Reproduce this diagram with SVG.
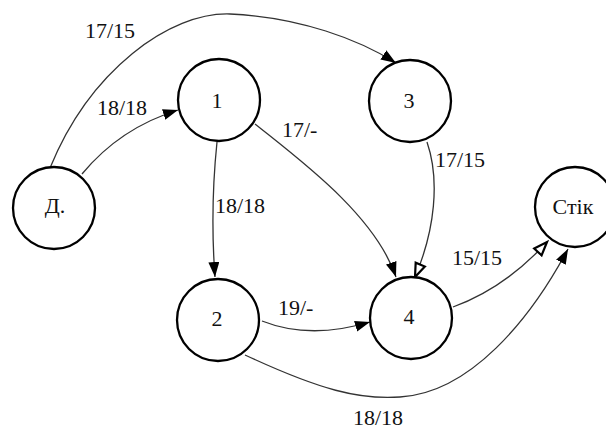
<svg xmlns="http://www.w3.org/2000/svg" width="606" height="429" viewBox="0 0 606 429">
<style>
.node{fill:#fff;stroke:#000;stroke-width:2.3}
.edge{fill:none;stroke:#333;stroke-width:1.3}
.c{text-anchor:middle}
</style>
<defs>
<marker id="a" markerUnits="userSpaceOnUse" markerWidth="16" markerHeight="12" refX="15" refY="5.5" orient="auto">
<path d="M0,0 L15,5.5 L0,11 z" fill="#000"/>
</marker>
<marker id="h" markerUnits="userSpaceOnUse" markerWidth="18" markerHeight="14" refX="15" refY="6.5" orient="auto">
<path d="M1.5,1.5 L15,6.5 L1.5,11.5 z" fill="#fff" stroke="#000" stroke-width="2.2"/>
</marker>
</defs>
<rect width="606" height="429" fill="#fff"/>
<g font-family="Liberation Serif, Times New Roman, serif" font-size="22" fill="#111">
<g id="connectors">
<path class="edge" d="M50,168 C 90,70 170,12 230,14 C 300,17 360,40 396,63" marker-end="url(#a)"/>
<path class="edge" d="M82,174 Q120,128 178,110" marker-end="url(#a)"/>
<path class="edge" d="M217,142 Q210,210 215,277" marker-end="url(#a)"/>
<path class="edge" d="M255,124 C 300,160 375,215 396,277" marker-end="url(#a)"/>
<path class="edge" d="M427,142 C 440,180 435,230 415,277" marker-end="url(#h)"/>
<path class="edge" d="M262,321 Q310,340 370,322" marker-end="url(#a)"/>
<path class="edge" d="M453,307 Q505,288 547,242" marker-end="url(#h)"/>
<path class="edge" d="M245,355 C 320,390 360,400 400,397 C 470,393 530,320 568,249" marker-end="url(#a)"/>
<text x="85" y="38">17/15</text>
<text x="97" y="115">18/18</text>
<text x="282" y="137">17/-</text>
<text x="215" y="213">18/18</text>
<text x="435" y="167">17/15</text>
<text x="278" y="315">19/-</text>
<text x="452" y="265">15/15</text>
<text x="353" y="425">18/18</text>
</g>
<g id="node-D"><circle class="node" cx="54" cy="208" r="41"/><text class="c" x="55" y="213">Д.</text></g>
<g id="node-1"><circle class="node" cx="219" cy="100" r="41"/><text class="c" x="217" y="108">1</text></g>
<g id="node-3"><circle class="node" cx="410" cy="101" r="41"/><text class="c" x="409" y="108">3</text></g>
<g id="node-2"><circle class="node" cx="218" cy="320" r="41"/><text class="c" x="217" y="326">2</text></g>
<g id="node-4"><circle class="node" cx="411" cy="318" r="41"/><text class="c" x="409" y="324">4</text></g>
<g id="node-stik"><circle class="node" cx="575" cy="207" r="40"/><text class="c" x="573" y="214">Стік</text></g>
</g>
</svg>
